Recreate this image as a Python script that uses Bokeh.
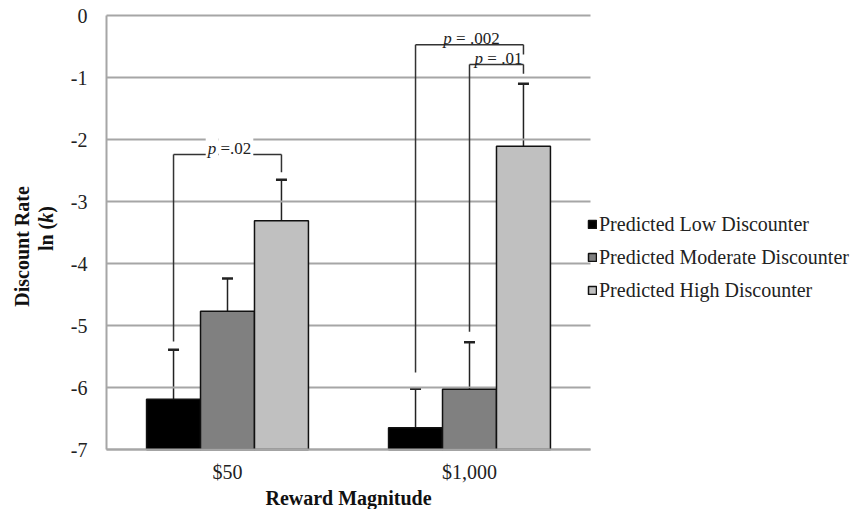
import numpy as np
from bokeh.plotting import figure
from bokeh.models import (ColumnDataSource, Range1d, FixedTicker, Legend, LegendItem,
                          Label, Whisker, TeeHead, LinearAxis)
from bokeh.embed import file_html
from bokeh.resources import INLINE

# ---------------- data ----------------
categories = ["$50", "$1,000"]
groups = ["Predicted Low Discounter", "Predicted Moderate Discounter", "Predicted High Discounter"]
low_mean = [-6.19, -6.65]
low_upper = [-5.39, -6.02]
mod_mean = [-4.77, -6.03]
mod_upper = [-4.24, -5.27]
high_mean = [-3.31, -2.11]
high_upper = [-2.65, -1.10]
y_ticks = [-7, -6, -5, -4, -3, -2, -1, 0]
y_tick_labels = ["-7", "-6", "-5", "-4", "-3", "-2", "-1", "0"]
x_title = "Reward Magnitude"
y_title_1 = "Discount Rate"
y_title_2 = ["ln (", "k", ")"]

# significance brackets
bracket_cat = [0, 1, 1]
bracket_from = [0, 0, 1]
bracket_to = [2, 2, 2]
bracket_y = [-2.24, -0.47, -0.79]
bracket_left_end = [-5.26, -5.76, -5.10]
bracket_right_end = [-2.53, -0.63, -0.94]
bracket_text = ["=.02", "= .002", "= .01"]

# ---------------- styling / layout ----------------
colors = ["#000000", "#808080", "#c0c0c0"]
bar_w = 0.223
offsets = [-bar_w, 0.0, bar_w]
SERIF = "Liberation Serif"
W, H = 860, 509
PX0, PX_PER_X = 106, 242.0   # pixel of x=0, pixels per x unit
PY0, PX_PER_Y = 15, 62.0     # pixel of y=0, pixels per y unit
x_rng = Range1d(-PX0 / PX_PER_X, (W - PX0) / PX_PER_X)
y_rng = Range1d(-(H - PY0) / PX_PER_Y, PY0 / PX_PER_Y)

p = figure(width=W, height=H, output_backend="svg", toolbar_location=None,
           x_range=x_rng, y_range=y_rng, x_axis_location=None, y_axis_location=None,
           min_border=0)
p.outline_line_color = None
p.background_fill_color = "white"
p.border_fill_color = "white"
p.xgrid.visible = False
p.ygrid.visible = False

GRID = "#a6a6a6"
# horizontal gridlines over the category span
n_cat = len(categories)
p.segment(x0=[0] * len(y_ticks), x1=[n_cat] * len(y_ticks), y0=y_ticks, y1=y_ticks,
          line_color=GRID, line_width=2)

cat_pos = [i + 0.5 for i in range(n_cat)]
xaxis = LinearAxis(fixed_location=y_ticks[0], bounds=(0, n_cat),
                   ticker=FixedTicker(ticks=cat_pos),
                   major_label_overrides={c: l for c, l in zip(cat_pos, categories)})
yaxis = LinearAxis(fixed_location=0, bounds=(y_ticks[0], y_ticks[-1]),
                   ticker=FixedTicker(ticks=y_ticks),
                   major_label_overrides={t: l for t, l in zip(y_ticks, y_tick_labels)})
for ax in (xaxis, yaxis):
    ax.axis_line_color = GRID
    ax.axis_line_width = 2
    ax.major_tick_line_color = None
    ax.minor_tick_line_color = None
    ax.major_label_text_font = SERIF
    ax.major_label_text_font_size = "20px"
    ax.major_label_text_color = "#222222"
xaxis.major_label_standoff = 5
yaxis.major_label_standoff = 13
p.add_layout(xaxis, "below")
p.add_layout(yaxis, "left")

means = [low_mean, mod_mean, high_mean]
uppers = [low_upper, mod_upper, high_upper]
renderers = []
for gi in range(3):
    xs = [c + offsets[gi] for c in cat_pos]
    src = ColumnDataSource(dict(x=xs, top=means[gi], bottom=[y_ticks[0]] * len(xs),
                                upper=uppers[gi]))
    r = p.vbar(x="x", top="top", bottom="bottom", width=bar_w, source=src,
               fill_color=colors[gi], line_color="#111111", line_width=1.5)
    renderers.append(r)
    w = Whisker(base="x", lower="top", upper="upper", source=src, dimension="height",
                line_color="#222222", line_width=1.5,
                upper_head=TeeHead(size=11, line_color="#222222", line_width=2.5),
                lower_head=None)
    p.add_layout(w)

# brackets
widths = {"p": 500, " ": 250, "=": 564, ".": 250, "0": 500, "1": 500, "2": 500}
FS = 17
for i in range(len(bracket_cat)):
    c = cat_pos[bracket_cat[i]]
    x0 = c + offsets[bracket_from[i]]
    x1 = c + offsets[bracket_to[i]]
    yb = bracket_y[i]
    p.segment(x0=[x0, x0, x1], y0=[bracket_left_end[i], yb, yb],
              x1=[x0, x1, x1], y1=[yb, yb, bracket_right_end[i]],
              line_color="#333333", line_width=1.5)
    rest = bracket_text[i]
    pw = widths["p"] / 1000 * FS
    sw = widths[" "] / 1000 * FS
    rw = sum(widths[ch] for ch in rest) / 1000 * FS
    total = pw + sw + rw
    xc = (x0 + x1) / 2
    bg = "white" if i == 0 else None
    l1 = Label(x=xc, y=yb, x_offset=-total / 2, y_offset=6, text="p",
               text_font=SERIF, text_font_style="italic", text_font_size=f"{FS}px",
               text_align="left", text_baseline="alphabetic", text_color="#222222",
               background_fill_color=bg, padding=2)
    l2 = Label(x=xc, y=yb, x_offset=-total / 2 + pw + sw, y_offset=6, text=rest,
               text_font=SERIF, text_font_size=f"{FS}px",
               text_align="left", text_baseline="alphabetic", text_color="#222222",
               background_fill_color=bg, padding=2)
    p.add_layout(l1)
    p.add_layout(l2)

# axis titles
def px_x(px):
    return (px - PX0) / PX_PER_X

def px_y(py):
    return -(py - PY0) / PX_PER_Y

title_kw = dict(text_font=SERIF, text_font_size="20px", text_color="#111111",
                text_align="center", text_baseline="middle")
p.add_layout(Label(x=n_cat / 2, y=px_y(497), text=x_title, text_font_style="bold", **title_kw))
p.add_layout(Label(x=px_x(21), y=px_y(246), text=y_title_1, angle=np.pi / 2,
                   text_font_style="bold", **title_kw))
part_styles = ["bold", "bold italic", "bold"]
part_centers = [236.4, 217.2, 208.9]
for t, st, cy in zip(y_title_2, part_styles, part_centers):
    p.add_layout(Label(x=px_x(45), y=px_y(cy), text=t, angle=np.pi / 2,
                       text_font_style=st, **title_kw))

legend = Legend(items=[LegendItem(label=g, renderers=[r]) for g, r in zip(groups, renderers)],
                location=(587, H - 306.5), orientation="vertical",
                glyph_width=10, glyph_height=10, label_standoff=2, label_height=33,
                spacing=0, padding=0, margin=0,
                label_text_font=SERIF, label_text_font_size="20px", label_text_color="#222222",
                border_line_color=None, background_fill_alpha=0)
p.add_layout(legend)

open("out.html", "w").write(file_html(p, INLINE))
